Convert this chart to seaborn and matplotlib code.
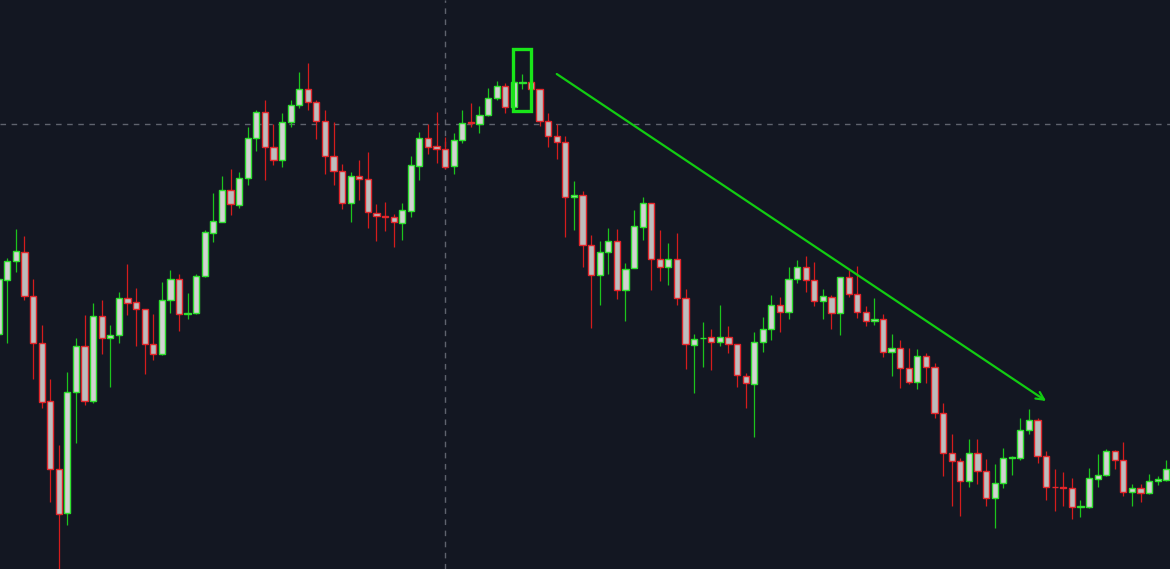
import numpy as np
import pandas as pd
import matplotlib
matplotlib.use("Agg")
import matplotlib.pyplot as plt
import matplotlib.patches as mpatches
import seaborn as sns

# ------------------------------
# OHLC data
# ------------------------------
opens = [265.7, 320.3, 338.7, 348.0, 303.7, 257.0, 199.0, 131.3, 86.7, 207.7,
         254.3, 198.7, 283.7, 262.3, 264.7, 301.7, 297.7, 291.3, 255.7, 246.0,
         299.7, 321.0, 286.3, 286.7, 323.7, 367.0, 378.3, 410.0, 395.3, 422.3,
         461.7, 487.7, 452.7, 440.3, 478.3, 495.0, 511.0, 497.7, 479.0, 444.0,
         429.3, 396.7, 424.3, 420.7, 387.3, 384.3, 383.0, 376.7, 389.3, 434.3,
         462.3, 453.7, 451.3, 433.7, 459.7, 478.0, 476.3, 484.7, 502.3, 513.7,
         493.3, 517.3, 517.7, 510.7, 479.0, 463.7, 457.7, 403.3, 404.7, 354.7,
         324.7, 347.7, 359.0, 309.7, 332.3, 372.7, 396.7, 340.7, 333.3, 340.7,
         302.0, 255.3, 261.7, 262.7, 257.7, 262.7, 256.3, 223.7, 216.3, 258.3,
         270.7, 294.7, 287.7, 321.0, 333.3, 319.7, 298.7, 302.7, 286.7, 322.7,
         305.7, 287.7, 279.0, 281.0, 248.3, 251.7, 231.7, 218.3, 243.7, 233.0,
         187.3, 147.0, 138.7, 118.7, 147.0, 129.0, 102.0, 116.7, 141.7, 142.3,
         169.7, 180.0, 144.3, 113.3, 113.0, 111.7, 93.3, 93.3, 121.3, 125.0,
         148.7, 139.7, 107.7, 111.7, 107.0, 118.7, 120.0]
highs = [321.0, 342.3, 371.0, 363.7, 321.3, 274.7, 221.0, 154.7, 228.0, 262.3,
         285.0, 297.0, 299.7, 275.0, 308.3, 336.0, 312.0, 291.3, 285.7, 318.0,
         330.0, 326.0, 307.0, 325.7, 370.0, 406.7, 424.0, 431.3, 427.7, 473.0,
         489.7, 500.0, 476.3, 487.0, 500.0, 528.0, 536.7, 500.0, 490.0, 478.0,
         435.7, 428.3, 440.0, 448.0, 395.7, 398.3, 386.0, 397.0, 443.7, 468.3,
         475.7, 488.0, 462.7, 467.0, 490.0, 496.7, 493.7, 512.0, 519.0, 516.7,
         519.3, 526.0, 517.7, 510.7, 486.7, 475.7, 464.0, 419.0, 409.3, 365.0,
         359.0, 371.7, 371.0, 337.3, 390.0, 403.0, 396.7, 370.0, 357.0, 366.7,
         310.7, 266.0, 278.3, 270.7, 295.0, 274.0, 256.3, 226.7, 267.7, 283.3,
         305.3, 302.7, 333.0, 340.3, 344.3, 338.0, 310.7, 304.7, 322.7, 330.0,
         334.0, 294.3, 301.7, 285.7, 266.0, 259.7, 252.0, 251.0, 246.7, 236.7,
         197.0, 166.3, 141.7, 160.7, 161.3, 141.0, 136.0, 152.0, 144.3, 182.3,
         191.0, 182.0, 149.0, 130.7, 127.7, 122.0, 100.0, 131.7, 146.0, 151.0,
         149.7, 157.7, 115.7, 116.0, 125.7, 124.0, 139.7]
lows = [265.5, 256.7, 328.3, 300.0, 221.3, 192.3, 98.3, 25.0, 75.0, 156.7,
        194.7, 197.3, 246.0, 213.3, 256.7, 285.0, 254.0, 225.7, 240.3, 245.3,
        287.3, 269.3, 280.7, 286.0, 323.3, 358.0, 378.0, 385.0, 392.3, 414.7,
        449.3, 420.0, 435.0, 433.3, 472.7, 492.3, 490.3, 461.0, 425.7, 414.7,
        390.7, 378.3, 400.3, 371.7, 359.3, 368.7, 353.3, 360.0, 383.3, 420.3,
        446.3, 437.3, 430.7, 426.3, 456.7, 473.3, 467.0, 484.0, 500.3, 487.3,
        492.7, 510.7, 510.7, 474.3, 453.3, 441.0, 363.3, 370.0, 332.7, 272.3,
        295.0, 326.0, 301.0, 279.0, 331.7, 360.0, 310.0, 319.3, 315.0, 295.0,
        231.0, 207.3, 233.3, 230.3, 253.7, 246.7, 213.3, 192.3, 163.3, 248.0,
        260.3, 268.3, 281.3, 317.3, 308.3, 294.0, 281.3, 271.3, 265.0, 302.7,
        282.3, 274.3, 275.0, 243.3, 224.0, 212.3, 216.3, 211.0, 216.7, 181.7,
        124.3, 93.7, 84.3, 112.7, 116.3, 94.3, 72.3, 112.3, 125.0, 139.7,
        165.7, 137.3, 100.0, 89.0, 94.0, 80.7, 82.7, 92.3, 113.3, 124.3,
        131.3, 104.3, 93.7, 98.0, 106.3, 115.0, 119.3]
closes = [320.7, 338.7, 348.7, 303.7, 257.0, 198.0, 131.3, 86.0, 207.7, 253.7,
          199.0, 283.7, 262.3, 264.7, 301.7, 297.0, 291.3, 255.7, 246.0, 299.7,
          321.0, 286.3, 287.0, 324.0, 367.7, 378.7, 410.0, 395.7, 422.3, 461.7,
          487.7, 452.7, 440.3, 478.3, 495.0, 511.0, 497.7, 479.0, 444.0, 429.3,
          396.7, 424.3, 421.3, 388.0, 384.3, 383.0, 377.7, 389.7, 434.7, 462.3,
          453.3, 451.3, 433.3, 460.0, 476.7, 476.7, 484.7, 502.3, 513.7, 493.3,
          517.7, 518.0, 511.3, 479.0, 463.7, 457.7, 403.3, 404.7, 354.7, 324.7,
          348.0, 359.0, 309.7, 331.3, 373.7, 397.3, 340.7, 333.3, 340.7, 302.0,
          256.3, 261.3, 262.3, 257.7, 262.7, 256.3, 224.7, 217.0, 258.3, 270.7,
          294.7, 287.7, 321.0, 333.3, 319.7, 298.7, 303.7, 286.7, 322.7, 305.7,
          287.7, 278.7, 281.0, 248.3, 251.7, 231.7, 218.3, 243.7, 233.0, 187.3,
          147.0, 138.7, 119.3, 147.3, 129.0, 102.3, 116.7, 142.3, 142.7, 169.7,
          180.0, 144.3, 113.0, 112.7, 111.7, 93.3, 94.0, 121.7, 125.3, 148.7,
          139.7, 107.7, 111.7, 107.0, 118.7, 120.7, 130.7]

# ------------------------------
# Colours
# ------------------------------
BG = "#131722"
UP_EDGE, DOWN_EDGE = "#2ee02e", "#e3262b"
UP_WICK, DOWN_WICK = "#1cc41c", "#d41c1c"
UP_FILL, DOWN_FILL = "#d2d2d2", "#bdbdbd"
CROSS = "#5f636e"
MARK = "#19e619"

df = pd.DataFrame({"open": opens, "high": highs, "low": lows, "close": closes})
df["x"] = np.arange(len(df))
df["up"] = df["close"] >= df["open"]

sns.set_theme(style="dark", rc={"axes.facecolor": BG, "figure.facecolor": BG,
                                "axes.edgecolor": BG, "axes.grid": False})

fig = plt.figure(figsize=(11.7, 5.69), dpi=100)
ax = fig.add_axes([0, 0, 1, 1])
ax.set_facecolor(BG)

# crosshair
ax.axvline(52, color=CROSS, lw=1, ls=(0, (4, 4)), zorder=1)
ax.axhline(476, color=CROSS, lw=1, ls=(0, (4, 4)), zorder=1)

# wicks
wick_colors = np.where(df["up"], UP_WICK, DOWN_WICK)
ax.vlines(df["x"], df["low"], df["high"], colors=wick_colors, lw=0.9, zorder=2)

# bodies
bottom = df[["open", "close"]].min(axis=1)
height = (df["close"] - df["open"]).abs()
ax.bar(df["x"], height, bottom=bottom, width=0.72,
       color=np.where(df["up"], UP_FILL, DOWN_FILL),
       edgecolor=np.where(df["up"], UP_EDGE, DOWN_EDGE),
       linewidth=1.0, zorder=3)

# highlighted box around the top
ax.add_patch(mpatches.Rectangle((59.9, 489.5), 2.1, 62, fill=False,
                                edgecolor=MARK, lw=2.4, zorder=4))

# trend arrow
ax.annotate("", xy=(122.0, 199), xytext=(65.0, 526),
            arrowprops=dict(arrowstyle="->", color="#12cc12", lw=1.6,
                            mutation_scale=14, shrinkA=0, shrinkB=0), zorder=4)

ax.set_xlim(0.15, 136.43)
ax.set_ylim(31, 600)
ax.set_xticks([])
ax.set_yticks([])
for s in ax.spines.values():
    s.set_visible(False)

fig.savefig("out.png", dpi=100, facecolor=BG)
